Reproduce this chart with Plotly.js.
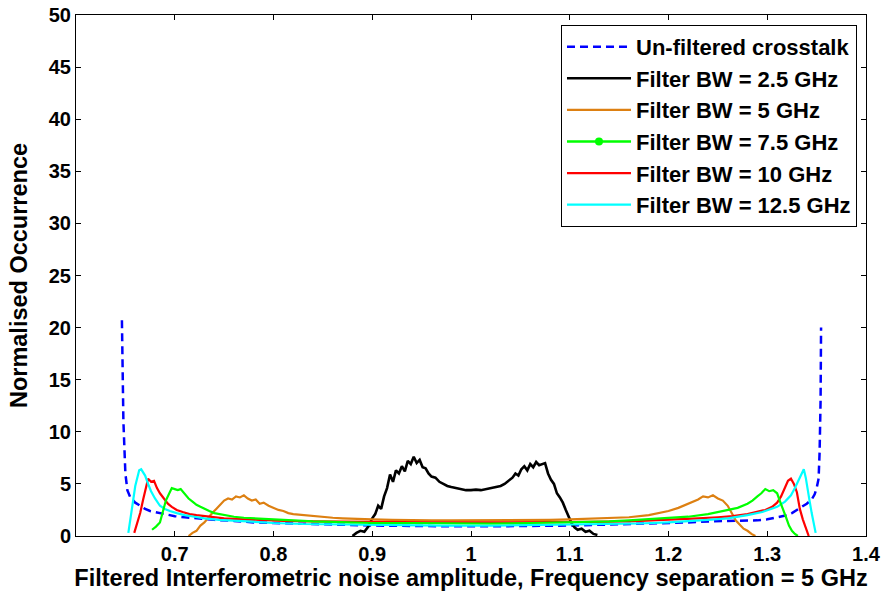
<!DOCTYPE html>
<html><head><meta charset="utf-8">
<script src="https://cdn.plot.ly/plotly-3.0.1.min.js"></script>
<style>html,body{margin:0;padding:0;background:#fff}#chart{width:886px;height:600px}</style>
</head><body><div id="chart"></div>
<script>
const legendNames = ["Un-filtered crosstalk","Filter BW = 2.5 GHz","Filter BW = 5 GHz","Filter BW = 7.5 GHz","Filter BW = 10 GHz","Filter BW = 12.5 GHz"];
const xTicks = [0.7,0.8,0.9,1.0,1.1,1.2,1.3,1.4];
const yTicks = [0,5,10,15,20,25,30,35,40,45,50];

const unfX = [0.6465,0.648,0.650,0.652,0.655,0.66,0.665,0.67,0.675,0.68,0.69,0.70,0.71,0.72,0.74,0.76,0.78,0.80,0.83,0.86,0.90,0.94,0.98,1.02,1.06,1.10,1.14,1.17,1.20,1.22,1.24,1.26,1.28,1.29,1.30,1.31,1.32,1.325,1.33,1.335,1.34,1.345,1.348,1.350,1.352,1.353,1.354,1.3545];
const unfY = [20.7,11,6.0,4.4,3.7,3.2,2.9,2.6,2.4,2.3,2.1,1.9,1.8,1.7,1.55,1.45,1.3,1.25,1.15,1.1,1.0,0.95,0.93,0.93,0.95,1.0,1.1,1.15,1.25,1.3,1.4,1.45,1.5,1.5,1.6,1.8,2.0,2.2,2.5,2.8,3.1,3.5,4.0,4.6,5.5,8,13,20];

const bw25X = [0.880,0.884,0.888,0.892,0.896,0.900,0.903,0.906,0.909,0.912,0.915,0.918,0.921,0.924,0.927,0.930,0.933,0.936,0.939,0.942,0.945,0.948,0.951,0.954,0.957,0.960,0.964,0.968,0.972,0.976,0.980,0.985,0.990,0.995,1.000,1.005,1.010,1.015,1.020,1.025,1.030,1.034,1.038,1.042,1.045,1.048,1.051,1.054,1.057,1.060,1.063,1.066,1.069,1.072,1.075,1.078,1.081,1.084,1.087,1.090,1.093,1.096,1.099,1.102,1.105,1.108,1.112,1.116,1.120,1.124,1.128];
const bw25Y = [0.0,0.3,0.5,0.4,0.9,1.7,2.1,2.9,2.6,3.8,4.6,5.9,5.2,6.3,6.0,6.7,6.2,7.2,6.9,7.6,7.0,7.3,6.6,6.5,6.0,5.7,5.6,5.2,5.0,4.8,4.7,4.6,4.5,4.4,4.4,4.45,4.4,4.5,4.6,4.7,4.8,5.0,5.3,5.6,6.0,5.8,6.4,6.7,6.3,6.9,6.6,7.1,6.8,6.9,7.0,6.0,5.4,5.0,4.1,3.7,3.2,2.5,1.8,1.2,0.8,0.6,0.7,0.4,0.5,0.2,0.1];

const bw5X = [0.714,0.718,0.722,0.726,0.730,0.734,0.738,0.742,0.746,0.750,0.754,0.758,0.762,0.766,0.770,0.774,0.778,0.782,0.786,0.790,0.795,0.800,0.805,0.810,0.815,0.820,0.830,0.840,0.850,0.860,0.870,0.880,0.900,0.920,0.940,0.960,0.980,1.000,1.020,1.040,1.060,1.080,1.100,1.120,1.140,1.160,1.180,1.190,1.200,1.210,1.215,1.220,1.225,1.230,1.235,1.240,1.245,1.250,1.255,1.260,1.264,1.268,1.272,1.276,1.280,1.284,1.288];
const bw5Y = [0.0,0.3,0.5,1.0,1.3,1.8,2.2,2.6,3.0,3.4,3.6,3.5,3.8,3.7,3.9,3.6,3.4,3.5,3.1,3.2,2.9,2.7,2.5,2.4,2.2,2.1,2.0,1.9,1.8,1.75,1.7,1.65,1.6,1.55,1.5,1.5,1.5,1.5,1.5,1.5,1.5,1.55,1.6,1.65,1.7,1.8,2.0,2.2,2.4,2.7,2.9,3.1,3.3,3.5,3.8,3.7,3.9,3.6,3.4,2.9,2.2,1.5,1.1,0.7,0.5,0.2,0.0];

const bw75X = [0.677,0.681,0.685,0.688,0.691,0.694,0.697,0.700,0.703,0.706,0.710,0.714,0.718,0.722,0.726,0.730,0.735,0.740,0.745,0.750,0.760,0.770,0.780,0.790,0.800,0.820,0.840,0.860,0.880,0.900,0.940,0.980,1.020,1.060,1.100,1.140,1.160,1.180,1.200,1.220,1.240,1.250,1.260,1.270,1.280,1.285,1.290,1.294,1.298,1.302,1.306,1.310,1.313,1.316,1.319,1.322,1.325,1.328,1.331];
const bw75Y = [0.6,0.9,1.3,2.4,3.4,4.0,4.6,4.5,4.4,4.5,4.0,3.6,3.3,3.0,2.8,2.6,2.4,2.2,2.1,2.0,1.85,1.75,1.7,1.6,1.55,1.5,1.4,1.35,1.3,1.25,1.25,1.2,1.2,1.25,1.3,1.4,1.5,1.6,1.7,1.85,2.1,2.3,2.5,2.7,3.1,3.4,3.8,4.1,4.5,4.3,4.4,4.1,3.3,2.6,1.8,1.0,0.5,0.2,0.0];

const bw10X = [0.659,0.662,0.665,0.668,0.671,0.673,0.676,0.679,0.682,0.685,0.689,0.693,0.697,0.702,0.708,0.715,0.722,0.730,0.740,0.750,0.770,0.790,0.810,0.840,0.880,0.920,0.960,1.000,1.040,1.080,1.120,1.160,1.190,1.210,1.230,1.250,1.265,1.280,1.290,1.298,1.305,1.310,1.314,1.318,1.321,1.324,1.327,1.330,1.333,1.336,1.339,1.342];
const bw10Y = [0.3,1.2,2.2,3.5,4.9,5.5,5.2,5.3,4.6,4.1,3.6,3.1,2.8,2.5,2.3,2.1,2.0,1.9,1.8,1.7,1.6,1.5,1.45,1.4,1.35,1.3,1.3,1.3,1.3,1.3,1.35,1.4,1.5,1.6,1.7,1.8,1.9,2.1,2.3,2.5,2.8,3.2,3.8,4.6,5.3,5.5,5.0,4.2,2.6,1.6,0.8,0.0];

const bw125X = [0.653,0.655,0.658,0.660,0.662,0.664,0.666,0.668,0.670,0.673,0.676,0.680,0.685,0.690,0.695,0.702,0.710,0.720,0.730,0.745,0.760,0.780,0.800,0.830,0.870,0.920,0.970,1.020,1.070,1.120,1.170,1.200,1.220,1.240,1.260,1.280,1.295,1.310,1.318,1.324,1.328,1.332,1.335,1.337,1.339,1.341,1.343,1.345,1.347,1.349];
const bw125Y = [0.3,1.8,3.5,4.8,5.7,6.3,6.4,6.1,5.8,5.0,4.3,3.6,2.9,2.6,2.4,2.2,2.0,1.85,1.7,1.55,1.45,1.35,1.25,1.15,1.1,1.05,1.0,1.0,1.05,1.1,1.2,1.3,1.4,1.55,1.7,2.0,2.3,2.8,3.3,3.9,4.6,5.4,6.1,6.4,5.6,4.6,3.3,2.2,1.2,0.3];

const ORANGE = '#dd8012';
const traces = [
  {x: unfX, y: unfY, name: legendNames[0], mode: 'lines', line: {color: '#0000ff', width: 2.5, dash: '8px,5px'}},
  {x: bw25X, y: bw25Y, name: legendNames[1], mode: 'lines', line: {color: '#000000', width: 2.6}},
  {x: bw5X, y: bw5Y, name: legendNames[2], mode: 'lines', line: {color: ORANGE, width: 2.2}},
  {x: [null], y: [null], name: legendNames[3], legendgroup: 'g75', mode: 'lines+markers', line: {color: '#00ff00', width: 2.5}, marker: {color: '#00ff00', size: 8}},
  {x: bw10X, y: bw10Y, name: legendNames[4], mode: 'lines', line: {color: '#ff0000', width: 2.2}},
  {x: bw125X, y: bw125Y, name: legendNames[5], mode: 'lines', line: {color: '#00ffff', width: 2.2}},
  {x: bw75X, y: bw75Y, name: legendNames[3], legendgroup: 'g75', showlegend: false, mode: 'lines', line: {color: '#00ff00', width: 2.2}}
];

const FONT = 'Arial, "Liberation Sans", sans-serif';
const layout = {
  width: 886, height: 600,
  margin: {l: 76, r: 20, t: 15, b: 64},
  paper_bgcolor: '#fff', plot_bgcolor: '#fff',
  font: {family: FONT, color: '#000', size: 20, weight: 'bold'},
  showlegend: true,
  xaxis: {
    range: [0.6, 1.4], tickvals: xTicks, ticks: 'inside', ticklen: 5, tickcolor: '#000',
    showline: true, linecolor: '#000', linewidth: 1, mirror: 'ticks', showgrid: false, zeroline: false,
    tickfont: {family: FONT, size: 20, weight: 'bold'},
    title: {text: 'Filtered Interferometric noise amplitude, Frequency separation = 5 GHz', font: {family: FONT, size: 23.5, weight: 'bold'}, standoff: 5}
  },
  yaxis: {
    range: [0, 50], tickvals: yTicks, ticks: 'inside', ticklen: 5, tickcolor: '#000',
    showline: true, linecolor: '#000', linewidth: 1, mirror: 'ticks', showgrid: false, zeroline: false,
    tickfont: {family: FONT, size: 20, weight: 'bold'},
    title: {text: 'Normalised Occurrence', font: {family: FONT, size: 23.5, weight: 'bold'}, standoff: 14}
  },
  legend: {
    x: 0.9886, xanchor: 'right', y: 0.981, yanchor: 'top',
    bgcolor: '#fff', bordercolor: '#000', borderwidth: 1,
    font: {family: FONT, size: 22, weight: 'bold', color: '#000'},
    itemwidth: 64, tracegroupgap: 0
  }
};
Plotly.newPlot('chart', traces, layout, {displayModeBar: false, staticPlot: true});
</script></body></html>
